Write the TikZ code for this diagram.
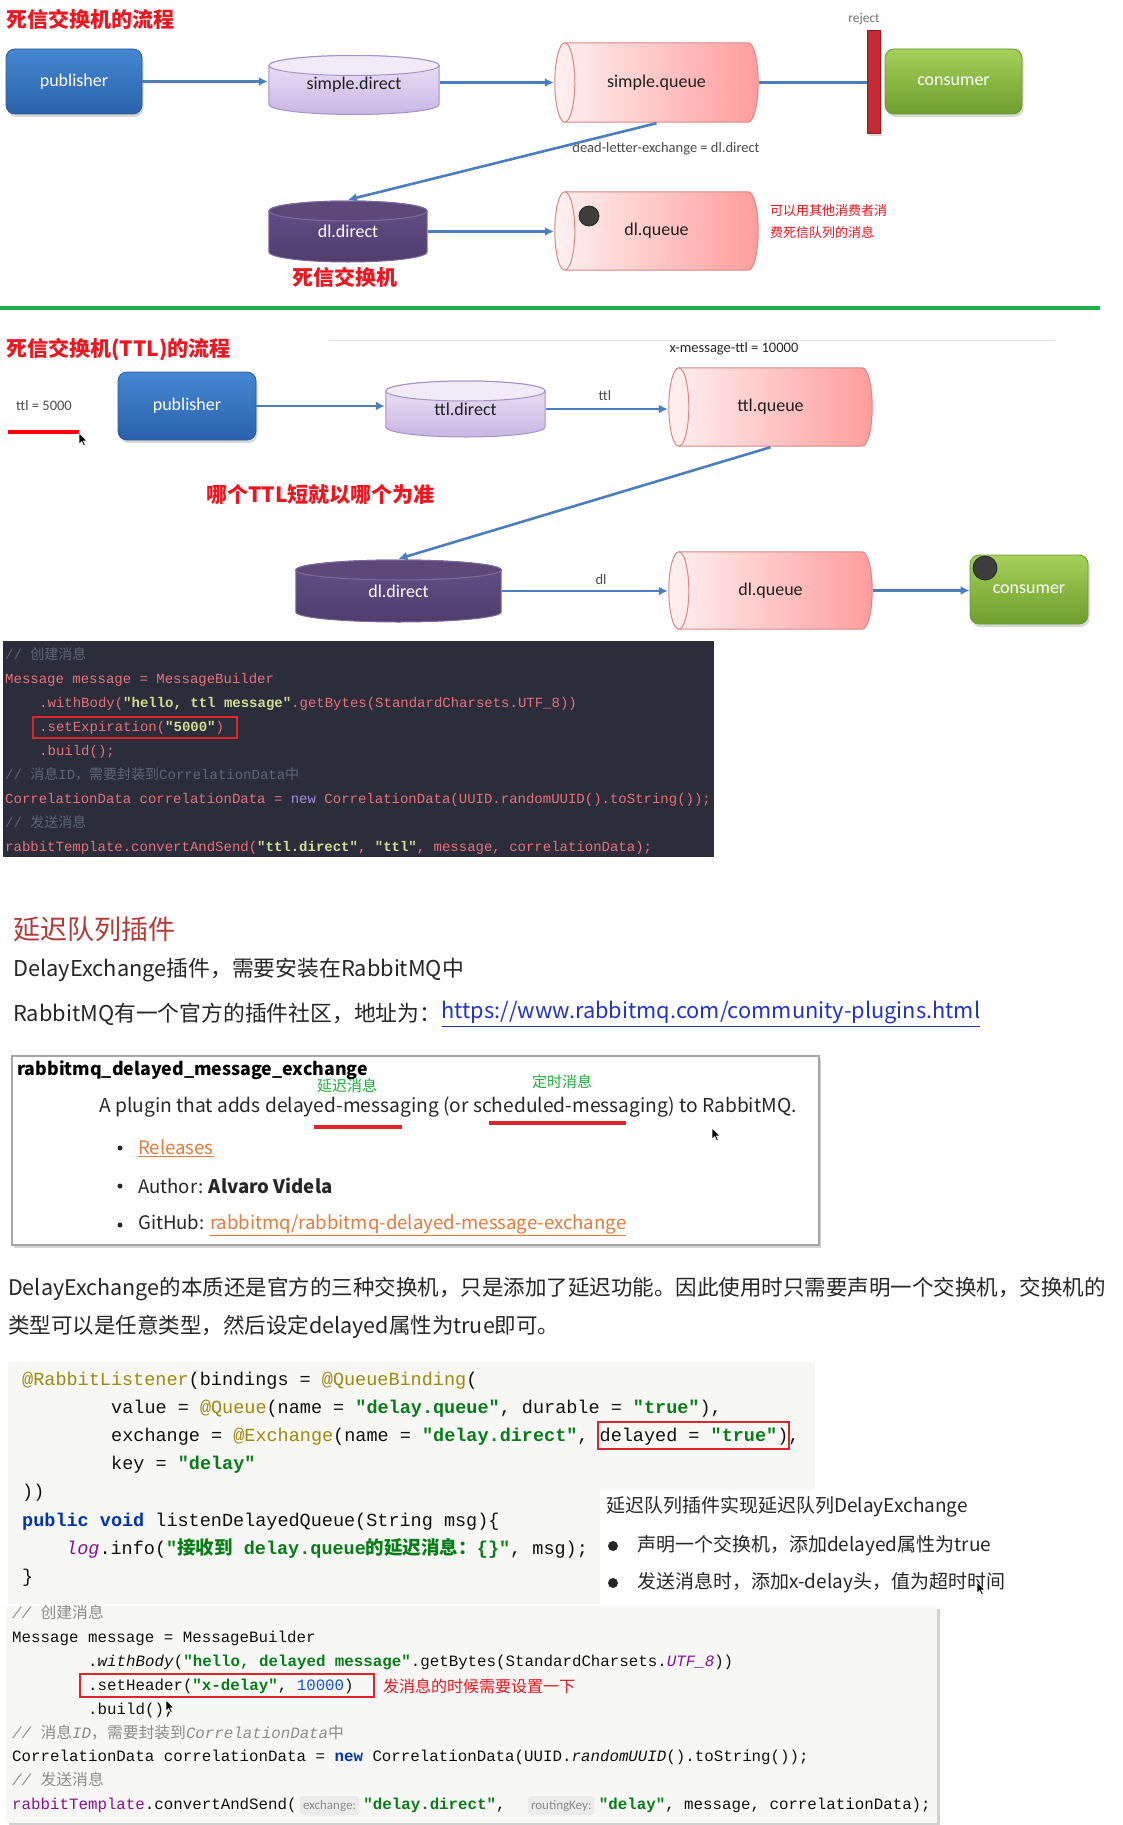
\documentclass[tikz,border=0pt]{standalone}
\usepackage{fontspec}
\setmainfont{Noto Sans CJK SC}
\newfontfamily\cjk{Noto Sans CJK SC}
\newfontfamily\lbl{Carlito}
\newfontfamily\codefont{Liberation Mono}
\usetikzlibrary{arrows.meta,shadows,calc}

\definecolor{pubtop}{HTML}{4587D3}
\definecolor{pubbot}{HTML}{2A62AC}
\definecolor{pubdraw}{HTML}{2A5A9A}
\definecolor{contop}{HTML}{A5D05A}
\definecolor{conbot}{HTML}{6E9E2E}
\definecolor{condraw}{HTML}{6A9A30}
\definecolor{lavtop}{HTML}{EEE6F8}
\definecolor{lavbot}{HTML}{C8B5E3}
\definecolor{lavlid}{HTML}{F1EBF9}
\definecolor{lavdraw}{HTML}{A592C8}
\definecolor{purtop}{HTML}{65508A}
\definecolor{purbot}{HTML}{503C6C}
\definecolor{purlid}{HTML}{5E4879}
\definecolor{purdraw}{HTML}{7D6B9C}
\definecolor{qleft}{HTML}{FFF1F1}
\definecolor{qright}{HTML}{FF9C9C}
\definecolor{qdraw}{HTML}{D98787}
\definecolor{flowblue}{HTML}{4A7EBF}
\definecolor{rejred}{HTML}{C62A30}
\definecolor{titlered}{HTML}{F0141E}
\definecolor{sepgreen}{HTML}{20B04A}
\definecolor{dotgrey}{HTML}{3E3E3E}
\definecolor{dkbg}{HTML}{2B2D3A}
\definecolor{dkfg}{HTML}{E7707C}
\definecolor{dkcom}{HTML}{5F6577}
\definecolor{dkstr}{HTML}{D6DC92}
\definecolor{dknew}{HTML}{A98BE6}
\definecolor{lbg}{HTML}{F7F7F5}
\definecolor{lfg}{HTML}{101010}
\definecolor{lann}{HTML}{9E880D}
\definecolor{lstr}{HTML}{067D17}
\definecolor{lkw}{HTML}{0033B3}
\definecolor{lpur}{HTML}{871094}
\definecolor{lnum}{HTML}{1750EB}
\definecolor{lcom}{HTML}{8C8C8C}
\definecolor{hintbg}{HTML}{EBEBEB}
\definecolor{hdred}{HTML}{B23A38}
\definecolor{bodytxt}{HTML}{262626}
\definecolor{linkblue}{HTML}{2233CC}
\definecolor{linkorange}{HTML}{E47B3C}
\definecolor{notegreen}{HTML}{1DB03A}
\definecolor{boxred}{HTML}{E0242C}

\newcommand\dkS[1]{\textcolor{dkstr}{\bfseries #1}}
\newcommand\dkC[1]{\textcolor{dkcom}{#1}}
\newcommand\dkN[1]{\textcolor{dknew}{#1}}
\newcommand\ltS[1]{\textcolor{lstr}{\bfseries #1}}
\newcommand\ltA[1]{\textcolor{lann}{#1}}
\newcommand\ltK[1]{\textcolor{lkw}{\bfseries #1}}
\newcommand\ltP[1]{\textcolor{lpur}{#1}}
\newcommand\ltC[1]{\textcolor{lcom}{\itshape #1}}
\newcommand\ltN[1]{\textcolor{lnum}{#1}}

\tikzset{
  actor/.style n args={3}{rounded corners=9pt, top color=#1, bottom color=#2, draw=#3,
    line width=0.8pt, text=white, font=\lbl\fontsize{18}{21}\selectfont,
    drop shadow={opacity=0.3, shadow xshift=1.5pt, shadow yshift=-3pt}},
  vcyl/.style n args={4}{inner sep=0pt, font=\lbl\fontsize{18}{21}\selectfont,
    path picture={
      \shade[top color=#1, bottom color=#2, draw=#4, line width=1pt]
        let \p1=(path picture bounding box.south west), \p2=(path picture bounding box.north east),
            \n1={(\x2-\x1)/2-0.8pt} in
        (\x1+0.8pt,\y2-11pt) -- (\x1+0.8pt,\y1+11pt)
        arc[start angle=180,end angle=360,x radius=\n1,y radius=10pt]
        -- (\x2-0.8pt,\y2-11pt)
        arc[start angle=0,end angle=180,x radius=\n1,y radius=10pt] -- cycle;
      \filldraw[fill=#3, draw=#4, line width=1pt]
        let \p1=(path picture bounding box.south west), \p2=(path picture bounding box.north east),
            \n1={(\x2-\x1)/2-0.8pt} in
        ({(\x1+\x2)/2},\y2-11pt) ellipse[x radius=\n1, y radius=10pt];
    }},
  hcyl/.style n args={3}{inner sep=0pt, font=\lbl\fontsize{18}{21}\selectfont, text=black!88,
    path picture={
      \shade[left color=#1, right color=#2, draw=#3, line width=1pt]
        let \p1=(path picture bounding box.south west), \p2=(path picture bounding box.north east),
            \n1={(\y2-\y1)/2-0.8pt} in
        (\x1+10.8pt,\y2-0.8pt) -- (\x2-10.8pt,\y2-0.8pt)
        arc[start angle=90,end angle=-90,x radius=10pt,y radius=\n1]
        -- (\x1+10.8pt,\y1+0.8pt)
        arc[start angle=270,end angle=90,x radius=10pt,y radius=\n1] -- cycle;
      \draw[#3, line width=1pt]
        let \p1=(path picture bounding box.south west), \p2=(path picture bounding box.north east),
            \n1={(\y2-\y1)/2-0.8pt} in
        (\x1+10.8pt,\y2-0.8pt) arc[start angle=90,end angle=-90,x radius=10pt,y radius=\n1];
    }},
  lavex/.style={vcyl={lavtop}{lavbot}{lavlid}{lavdraw}, text=black!88},
  purex/.style={vcyl={purtop}{purbot}{purlid}{purdraw}, text=white},
  queue/.style={hcyl={qleft}{qright}{qdraw}},
  pubbox/.style={actor={pubtop}{pubbot}{pubdraw}},
  conbox/.style={actor={contop}{conbot}{condraw}},
  flow/.style={draw=flowblue, line width=2.6pt, -{Latex[length=9pt,width=9pt]}},
  flowline/.style={draw=flowblue, line width=2.6pt},
  rejbar/.style={fill=rejred, draw=rejred!70!black, minimum width=13pt, minimum height=103pt,
    inner sep=0pt, drop shadow={opacity=0.3, shadow xshift=1.5pt, shadow yshift=-3pt}},
  dot/.style={circle, fill=dotgrey, draw=black!85, line width=0.8pt, inner sep=0pt},
  small/.style={inner sep=0pt, font=\lbl\fontsize{14.5}{17}\selectfont, text=black!70},
  title/.style={inner sep=0pt, font=\cjk\bfseries\fontsize{21}{24}\selectfont, text=titlered},
  rednote/.style={inner sep=0pt, anchor=west, font=\cjk\fontsize{13}{15}\selectfont, text=titlered},
  redbox/.style={draw=boxred, line width=2pt},
  cdark/.style={anchor=base west, inner sep=0pt, text=dkfg, font=\codefont\fontsize{14}{16}\selectfont},
  clight/.style={anchor=base west, inner sep=0pt, text=lfg, font=\codefont\fontsize{18.5}{22}\selectfont},
  csix/.style={anchor=base west, inner sep=0pt, text=lfg, font=\codefont\fontsize{15.8}{19}\selectfont},
  hint/.style={anchor=west, fill=hintbg, rounded corners=3pt, text=lcom, inner xsep=3pt, inner ysep=4pt,
    font=\lbl\fontsize{13}{15}\selectfont},
  body/.style={anchor=west, inner sep=0pt, text=bodytxt, font=\fontsize{21.8}{25}\selectfont},
  boxtxt/.style={anchor=west, inner sep=0pt, text=bodytxt, font=\fontsize{18.6}{22}\selectfont},
  greennote/.style={inner sep=0pt, text=notegreen, font=\cjk\fontsize{15}{17}\selectfont},
  uline/.style={draw=boxred, line width=3.5pt},
  bulletdot/.style={circle, fill=bodytxt, inner sep=0pt, minimum size=#1},
  cursorpic/.pic={\filldraw[fill=black, draw=white, line width=0.6pt, scale=0.75]
     (0,0) -- (0,15) -- (3.6,11.4) -- (6.2,17) -- (8.4,16) -- (5.9,10.6) -- (10.5,10.6) -- cycle;}
}

\begin{document}
\begin{tikzpicture}[x=1pt,y=-1pt]
\useasboundingbox (0,0) rectangle (1122,1825);
\fill[white] (0,0) rectangle (1122,1825);

% ---------------- Section 1 ----------------
\node[title, anchor=west] (t1) at (6,19) {死信交换机的流程};
\node[pubbox, minimum width=136pt, minimum height=65pt] (pub1) at (74,81.5) {publisher};
\node[lavex, minimum width=172pt, minimum height=61pt] (sd) at (354,85) {simple.direct};
\node[queue, minimum width=205pt, minimum height=81pt] (sq) at (656.5,82.5) {simple.queue};
\node[rejbar] (rej) at (873.5,81.5) {};
\node[small, text=black!55, font=\lbl\fontsize{13.5}{16}\selectfont] (rejl) at (864,19) {reject};
\node[conbox, minimum width=137pt, minimum height=65pt] (con1) at (953.5,81.5) {consumer};
\node[purex, minimum width=160pt, minimum height=63pt] (dd1) at (348,231.5) {dl.direct};
\node[queue, minimum width=205pt, minimum height=80pt] (dq1) at (656.5,231) {dl.queue};
\node[dot, minimum size=20pt] (dot1) at (589,216) {};
\node[rednote] (n1a) at (770,211) {可以用其他消费者消};
\node[rednote] (n1b) at (770,233) {费死信队列的消息};
\node[title] (t1b) at (345,277) {死信交换机};
\node[small] (dlx) at (666,149) {dead-letter-exchange = dl.direct};

\draw[flow] (pub1.east) -- (pub1.east -| sd.west);
\draw[flow] (sd.east |- sq.west) -- (sq.west);
\draw[flowline] (sq.east) -- (sq.east -| rej.west);
\draw[flow] (sq.south) -- (dd1.north);
\draw[flow] (dd1.east) -- (dd1.east -| dq1.west);

\draw[sepgreen, line width=3.5pt] (0,308) -- (1100,308);

% ---------------- Section 2 ----------------
\node[title, anchor=west] (t2) at (6,350) {死信交换机(TTL)的流程};
\draw[black!12, line width=1pt] (329,340) -- (1055,340);
\node[small, text=black!85] (xttl) at (734,349) {x-message-ttl = 10000};
\node[small] (ttl5) at (44,406) {ttl = 5000};
\draw[red, line width=3.5pt] (8,432) -- (79,432);
\pic at (79,433) {cursorpic};

\node[pubbox, minimum width=138pt, minimum height=68pt] (pub2) at (187,406) {publisher};
\node[lavex, minimum width=161pt, minimum height=58pt] (td) at (465.5,409) {ttl.direct};
\node[queue, minimum width=205pt, minimum height=80pt] (tq) at (770.5,407) {ttl.queue};
\node[small] (ttll) at (605,396) {ttl};
\node[title] (n2) at (320.5,495) {哪个TTL短就以哪个为准};
\node[purex, minimum width=207pt, minimum height=64pt] (dd2) at (398.5,591) {dl.direct};
\node[queue, minimum width=205pt, minimum height=79pt] (dq2) at (770.5,590.5) {dl.queue};
\node[small] (dll) at (601,580) {dl};
\node[conbox, minimum width=118pt, minimum height=69pt] (con2) at (1029,589.5) {consumer};
\node[dot, minimum size=24pt] (dot2) at (985,568) {};

\draw[flow] (pub2.east) -- (pub2.east -| td.west);
\draw[flow] (td.east) -- (td.east -| tq.west);
\draw[flow] (tq.south) -- (dd2.north);
\draw[flow] (dd2.east) -- (dd2.east -| dq2.west);
\draw[flow] (dq2.east) -- (dq2.east -| con2.west);

% ---------------- Section 3 : dark code ----------------
\fill[dkbg] (3,641) rectangle (714,857);
\node[cdark] (k1) at (5,659) {\dkC{// {\cjk 创建消息}}};
\node[cdark] (k2) at (5,683.1) {Message message = MessageBuilder};
\node[cdark] (k3) at (39,707.2) {.withBody(\dkS{"hello, ttl message"}.getBytes(StandardCharsets.UTF\_8))};
\node[cdark] (k4) at (39,731.3) {.setExpiration(\dkS{"5000"})};
\node[cdark] (k5) at (39,755.4) {.build();};
\node[cdark] (k6) at (5,779.5) {\dkC{// {\cjk 消息}ID{\cjk ，需要封装到}CorrelationData{\cjk 中}}};
\node[cdark] (k7) at (5,803.6) {CorrelationData correlationData = \dkN{new} CorrelationData(UUID.randomUUID().toString());};
\node[cdark] (k8) at (5,827.7) {\dkC{// {\cjk 发送消息}}};
\node[cdark] (k9) at (5,851.8) {rabbitTemplate.convertAndSend(\dkS{"ttl.direct"}, \dkS{"ttl"}, message, correlationData);};
\draw[redbox] (33,717) rectangle (237,738);

% ---------------- Section 4 : plugin ----------------
\node[anchor=west, inner sep=0pt, text=hdred, font=\fontsize{27}{30}\selectfont] (h4) at (13,929) {延迟队列插件};
\node[body] (p1) at (13,970) {DelayExchange插件，需要安装在RabbitMQ中};
\node[body] (p2) at (13,1014) {RabbitMQ有一个官方的插件社区，地址为：};
\node[body, text=linkblue] (link) at (p2.east) {\underline{https://www.rabbitmq.com/community-plugins.html}};

\node[draw=black!35, line width=1.2pt, fill=white, minimum width=807pt, minimum height=189pt,
      drop shadow={opacity=0.35, shadow xshift=2pt, shadow yshift=-2.5pt}] (plug) at (415.5,1150.5) {};
\node[boxtxt, font=\bfseries\fontsize{17.8}{21}\selectfont, text=black] (pname) at (17,1070) {rabbitmq\_delayed\_message\_exchange};
\node[boxtxt, font=\fontsize{19.2}{22}\selectfont] (pdesc) at (99,1107) {A plugin that adds delayed-messaging (or scheduled-messaging) to RabbitMQ.};
\node[greennote] (g1) at (347,1086) {延迟消息};
\node[greennote] (g2) at (562,1082) {定时消息};
\draw[uline] (314,1127) -- (402,1127);
\draw[uline] (489,1123) -- (626,1123);
\pic at (712,1128) {cursorpic};
\node[bulletdot=5pt] (b1) at (120,1148) {};
\node[bulletdot=5pt] (b2) at (120,1186) {};
\node[bulletdot=5pt] (b3) at (120,1225) {};
\node[boxtxt, text=linkorange] (rel) at (138,1148) {\underline{Releases}};
\node[boxtxt] (auth) at (138,1186) {Author: \textbf{Alvaro Videla}};
\node[boxtxt] (gh) at (138,1225) {GitHub: \textcolor{linkorange}{\underline{rabbitmq/rabbitmq-delayed-message-exchange}}};

\node[body, font=\fontsize{21.5}{25}\selectfont] (q1) at (8,1289) {DelayExchange的本质还是官方的三种交换机，只是添加了延迟功能。因此使用时只需要声明一个交换机，交换机的};
\node[body, font=\fontsize{21.5}{25}\selectfont] (q2) at (8,1327) {类型可以是任意类型，然后设定delayed属性为true即可。};

% ---------------- Section 5 : listener code ----------------
\fill[lbg] (8,1362) rectangle (815,1604);
\fill[white] (600,1490) rectangle (1013,1604);
\node[clight] (m1) at (22,1385.5) {\ltA{@RabbitListener}(bindings = \ltA{@QueueBinding}(};
\node[clight] (m2) at (111,1413.6) {value = \ltA{@Queue}(name = \ltS{"delay.queue"}, durable = \ltS{"true"}),};
\node[clight] (m3) at (111,1441.7) {exchange = \ltA{@Exchange}(name = \ltS{"delay.direct"}, delayed = \ltS{"true"}),};
\node[clight] (m4) at (111,1469.8) {key = \ltS{"delay"}};
\node[clight] (m5) at (22,1497.9) {))};
\node[clight] (m6) at (22,1526) {\ltK{public void} listenDelayedQueue(String msg)\{};
\node[clight] (m7) at (66,1554.1) {\ltP{\itshape log}.info(\ltS{"{\cjk 接收到} delay.queue{\cjk 的延迟消息：}\{\}"}, msg);};
\node[clight] (m8) at (22,1582.2) {\}};
\draw[redbox] (598,1422) rectangle (789,1449);

\node[body, font=\fontsize{19}{22}\selectfont] (r0) at (606,1507) {延迟队列插件实现延迟队列DelayExchange};
\node[bulletdot=10pt] (rb1) at (613,1546) {};
\node[body, font=\fontsize{19}{22}\selectfont] (r1) at (637,1546) {声明一个交换机，添加delayed属性为true};
\node[bulletdot=10pt] (rb2) at (613,1583) {};
\node[body, font=\fontsize{19}{22}\selectfont] (r2) at (637,1583) {发送消息时，添加x-delay头，值为超时时间};
\pic at (977,1582) {cursorpic};

% ---------------- Section 6 : sender code ----------------
\fill[lbg, drop shadow={opacity=0.35, shadow xshift=3pt, shadow yshift=-3pt}] (6,1606) rectangle (937,1823);
\node[csix] (s1) at (12,1618.5) {\ltC{// {\cjk 创建消息}}};
\node[csix] (s2) at (12,1642.4) {Message message = MessageBuilder};
\node[csix] (s3) at (88,1666.3) {.\textit{withBody}(\ltS{"hello, delayed message"}.getBytes(StandardCharsets.\ltP{\itshape UTF\_8}))};
\node[csix] (s4) at (88,1690.2) {.setHeader(\ltS{"x-delay"}, \ltN{10000})};
\node[csix] (s5) at (88,1714.1) {.build();};
\node[csix] (s6) at (12,1738) {\ltC{// {\cjk 消息}ID{\cjk ，需要封装到}CorrelationData{\cjk 中}}};
\node[csix] (s7) at (12,1761.9) {CorrelationData correlationData = \ltK{new} CorrelationData(UUID.\textit{randomUUID}().toString());};
\node[csix] (s8) at (12,1785.8) {\ltC{// {\cjk 发送消息}}};
\node[csix] (s9) at (12,1809.7) {\ltP{rabbitTemplate}.convertAndSend(};
\node[hint] (h1) at ($(s9.east)+(3,0)$) {exchange:};
\node[csix] (s9b) at ($(h1.east |- s9.base)+(4,0)$) {\ltS{"delay.direct"},};
\node[hint] (h2) at ($(s9b.east)+(22,0)$) {routingKey:};
\node[csix] (s9c) at ($(h2.east |- s9.base)+(4,0)$) {\ltS{"delay"}, message, correlationData);};
\draw[redbox] (80,1674) rectangle (374,1697);
\node[rednote, font=\cjk\fontsize{16}{18}\selectfont] (n6) at (383,1686) {发消息的时候需要设置一下};
\pic at (166,1700) {cursorpic};
\end{tikzpicture}
\end{document}
